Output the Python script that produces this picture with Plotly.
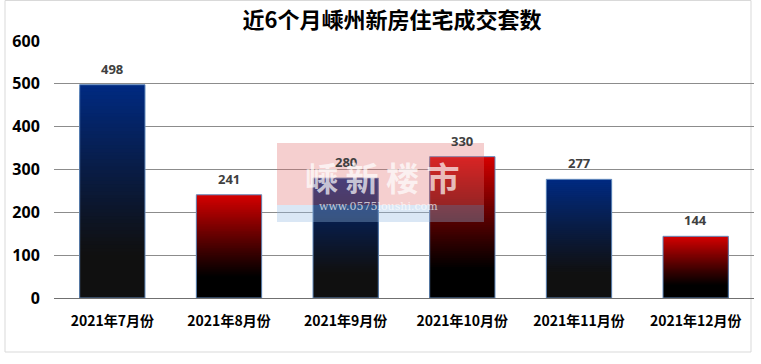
import plotly.graph_objects as go

# ---- data ----
months = ["2021年7月份", "2021年8月份", "2021年9月份", "2021年10月份", "2021年11月份", "2021年12月份"]
values = [498, 241, 280, 330, 277, 144]
y_ticks = [0, 100, 200, 300, 400, 500, 600]
title_text = "近6个月嵊州新房住宅成交套数"

# ---- style ----
top_colors = [(0, 42, 130), (214, 0, 0), (0, 42, 130), (214, 0, 0), (0, 42, 130), (214, 0, 0)]
bottom_colors = [(16, 16, 16), (0, 0, 0), (16, 16, 16), (0, 0, 0), (16, 16, 16), (0, 0, 0)]
N_SEG = 60
W, H = 761, 364
L, R, T, B = 54, 7, 41, 66
PW, PH = W - L - R, H - T - B

def px_x(x):
    return (x - L) / PW

def px_y(y):
    return (H - B - y) / PH

fig = go.Figure()

# gradient bars: nested bars from 0 up to a fraction of each value,
# tallest drawn first so shorter (darker) ones cover the lower part
for k in range(N_SEG - 1, -1, -1):
    f = (k + 0.5) / N_SEG
    t = max(0.0, min(1.0, (f - 0.2) / 0.8))
    t = t ** 1.1
    cols = []
    for tc, bc in zip(top_colors, bottom_colors):
        c = tuple(int(round(bc[j] + (tc[j] - bc[j]) * t)) for j in range(3))
        cols.append("rgb(%d,%d,%d)" % c)
    fig.add_trace(go.Bar(
        x=months,
        y=[v * (k + 1) / N_SEG for v in values],
        marker=dict(color=cols, line=dict(width=0)),
        width=0.56,
        hoverinfo="skip",
        showlegend=False,
    ))

# outline trace
fig.add_trace(go.Bar(
    x=months, y=values, width=0.56,
    marker=dict(color="rgba(0,0,0,0)", line=dict(color="rgb(100,140,190)", width=1)),
    showlegend=False,
))

# value labels
for m, v in zip(months, values):
    fig.add_annotation(x=m, y=v, text=str(v), showarrow=False, yanchor="bottom", yshift=5,
                       font=dict(family="Open Sans, Liberation Sans, sans-serif", size=13, color="#404040", weight="bold"))

shapes = [
    # outer frame
    dict(type="rect", xref="paper", yref="paper", x0=px_x(5), x1=px_x(751), y0=px_y(352), y1=px_y(0.5),
         line=dict(color="#d9d9d9", width=1), fillcolor="rgba(0,0,0,0)", layer="below"),
    # watermark boxes
    dict(type="rect", xref="paper", yref="paper", x0=px_x(277), x1=px_x(484), y0=px_y(205), y1=px_y(143),
         line=dict(width=0), fillcolor="rgba(225,110,110,0.33)", layer="above"),
    dict(type="rect", xref="paper", yref="paper", x0=px_x(277), x1=px_x(484), y0=px_y(222), y1=px_y(205),
         line=dict(width=0), fillcolor="rgba(150,185,225,0.35)", layer="above"),
]

fig.add_annotation(xref="paper", yref="paper", x=px_x(382), y=px_y(177), text="嵊 新 楼 市", showarrow=False,
                   font=dict(family="Noto Sans CJK SC", size=33, color="rgba(255,255,255,0.7)", weight="bold"))
fig.add_annotation(xref="paper", yref="paper", x=px_x(378), y=px_y(214.5), text="www.0575loushi.com", showarrow=False,
                   font=dict(family="DejaVu Serif, serif", size=11, color="rgba(255,255,255,0.7)"))

fig.update_layout(
    width=W, height=H,
    margin=dict(l=L, r=R, t=T, b=B, autoexpand=False),
    paper_bgcolor="white", plot_bgcolor="white",
    barmode="overlay",
    shapes=shapes,
    title=dict(text="<b>" + title_text + "</b>", x=0.515, xanchor="center", y=0.945, yanchor="middle",
               font=dict(family="Noto Sans CJK SC", size=22, color="black")),
    xaxis=dict(
        showgrid=False, showline=True, linecolor="#707070", linewidth=1,
        ticks="outside", ticklen=10, tickcolor="rgba(0,0,0,0)",
        tickfont=dict(family="Noto Sans CJK SC", size=14, color="black", weight="bold"),
        fixedrange=True, automargin=False,
    ),
    yaxis=dict(
        range=[0, 600], tickvals=y_ticks, showgrid=True, gridcolor="#8c8c8c", gridwidth=1,
        zeroline=False, showline=False,
        ticks="outside", ticklen=10, tickcolor="rgba(0,0,0,0)",
        tickfont=dict(family="Open Sans, Liberation Sans, sans-serif", size=16, color="black", weight="bold"),
        fixedrange=True, automargin=False,
    ),
)

fig.write_html("out.html", config={"displayModeBar": False},
               post_script="document.body.style.margin='0';document.body.style.overflow='hidden';")
